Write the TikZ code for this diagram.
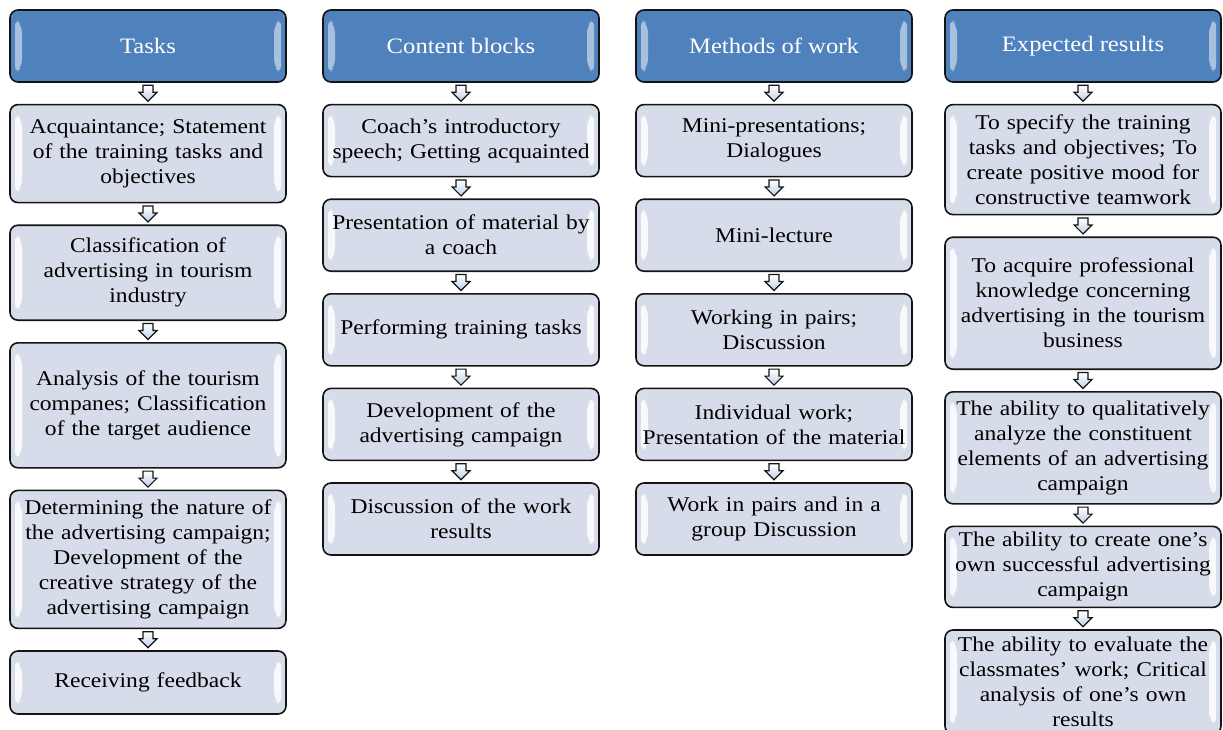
\documentclass[tikz,border=0pt]{standalone}
\usepackage{fontspec}
\usepackage[rgb]{xcolor}
\usepackage{tikz}
\usetikzlibrary{shapes}
\usetikzlibrary{positioning}

\newfontfamily\boxfont{Liberation Serif}[FakeStretch=1.12]
\definecolor{headblue}{RGB}{79,129,189}
\definecolor{boxgray}{RGB}{214,220,233}
\definecolor{arrowblue}{RGB}{190,208,232}
\definecolor{edgegray}{RGB}{20,20,20}

\tikzset{
  bevel/.style={path picture={
    \fill [#1] ([xshift=5pt,yshift=-8pt]path picture bounding box.north west) -- ++(7pt,-7pt)
      -- ([xshift=12pt,yshift=15pt]path picture bounding box.south west) -- ++(-7pt,-7pt) -- cycle;
    \fill [#1] ([xshift=-5pt,yshift=-8pt]path picture bounding box.north east) -- ++(-7pt,-7pt)
      -- ([xshift=-12pt,yshift=15pt]path picture bounding box.south east) -- ++(7pt,-7pt) -- cycle;
  }},
}

\begin{document}
\begin{tikzpicture}
        [x=1pt, y=-1pt, node distance=21pt,
         head/.style={draw=edgegray, line width=1.6pt, rounded corners=8pt, fill=headblue,
           minimum width=276pt, minimum height=72pt, text=white,
           font=\boxfont\fontsize{22}{26}\selectfont, bevel={white,opacity=0.5}},
         stage/.style={draw=edgegray, line width=1.6pt, rounded corners=8pt, fill=boxgray,
           minimum width=276pt, text width=270pt, align=center, inner sep=0pt,
           minimum height=#1, font=\boxfont\fontsize{21}{25}\selectfont,
           bevel={white,opacity=0.85}},
         downarrow/.style={draw=edgegray, line width=1.2pt, line join=miter,
           top color=white, bottom color=arrowblue}]
        \path [use as bounding box, fill=white] (0,0) rectangle (1223,729);

        \node [head] (tasks) at (148,46) {Tasks};
        \node [stage=98pt, below=of tasks] (acq) {Acquaintance; Statement\\of the training tasks and\\objectives};
        \node [stage=95pt, below=of acq] (classif) {Classification of\\advertising in tourism\\industry};
        \node [stage=125pt, below=of classif] (analysis) {Analysis of the tourism\\companes; Classification\\of the target audience};
        \node [stage=138pt, below=of analysis] (determ) {Determining the nature of\\the advertising campaign;\\Development of the\\creative strategy of the\\advertising campaign};
        \node [stage=63pt, below=of determ] (feedback) {Receiving feedback};

        \node [head] (content) at (461,46) {Content blocks};
        \node [stage=72pt, below=of content] (speech) {Coach’s introductory\\speech; Getting acquainted};
        \node [stage=72pt, below=of speech] (material) {Presentation of material by\\a coach};
        \node [stage=72pt, below=of material] (perform) {Performing training tasks};
        \node [stage=72pt, below=of perform] (develop) {Development of the\\advertising campaign};
        \node [stage=72pt, below=of develop] (discuss) {Discussion of the work\\results};

        \node [head] (methods) at (774,46) {Methods of work};
        \node [stage=72pt, below=of methods] (minipres) {Mini-presentations;\\Dialogues};
        \node [stage=72pt, below=of minipres] (minilect) {Mini-lecture};
        \node [stage=72pt, below=of minilect] (pairs) {Working in pairs;\\Discussion};
        \node [stage=72pt, below=of pairs] (indiv) {Individual work;\\Presentation of the material};
        \node [stage=72pt, below=of indiv] (group) {Work in pairs and in a\\group Discussion};

        \node [head] (results) at (1083,46) {Expected results};
        \node [stage=110pt, below=of results] (specify) {To specify the training\\tasks and objectives; To\\create positive mood for\\constructive teamwork};
        \node [stage=132pt, below=of specify] (acquire) {To acquire professional\\knowledge concerning\\advertising in the tourism\\business};
        \node [stage=112pt, below=of acquire] (analyze) {The ability to qualitatively\\analyze the constituent\\elements of an advertising\\campaign};
        \node [stage=81pt, below=of analyze] (create) {The ability to create one’s\\own successful advertising\\campaign};
        \node [stage=104pt, below=of create] (evaluate) {The ability to evaluate the\\classmates’ work; Critical\\analysis of one’s own\\results};

        % hollow block arrows between the stages
        \foreach \a/\b in {tasks/acq, acq/classif, classif/analysis, analysis/determ, determ/feedback,
                           content/speech, speech/material, material/perform, perform/develop, develop/discuss,
                           methods/minipres, minipres/minilect, minilect/pairs, pairs/indiv, indiv/group,
                           results/specify, specify/acquire, acquire/analyze, analyze/create, create/evaluate}
        {
          \path (\a.south) -- (\b.north) coordinate [midway] (m);
          \draw [downarrow] ([xshift=-5pt,yshift=8pt]m) -- ++(10pt,0pt) -- ++(0pt,-7pt) -- ++(4pt,0pt)
            -- ++(-9pt,-9pt) -- ++(-9pt,9pt) -- ++(4pt,0pt) -- cycle;
        }
    \end{tikzpicture}
\end{document}
